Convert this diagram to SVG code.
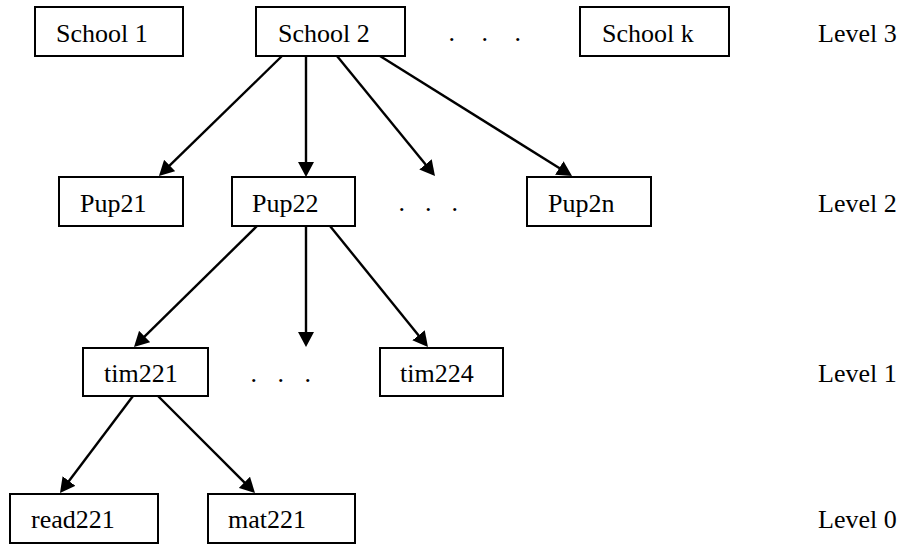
<svg xmlns="http://www.w3.org/2000/svg" width="902" height="544" viewBox="0 0 902 544">
<style>
  .box { fill: #fff; stroke: #000; stroke-width: 2; }
  .t { font-family: 'Liberation Serif', 'DejaVu Serif', serif; font-size: 26px; fill: #000; }
  .edge { stroke: #000; stroke-width: 2.4; fill: none; marker-end: url(#arrow); }
</style>
<defs>
  <marker id="arrow" viewBox="0 0 15 16" markerWidth="15" markerHeight="16" refX="6" refY="8" orient="auto" markerUnits="userSpaceOnUse">
    <path d="M0,0 L15,8 L0,16 z" fill="#000"/>
  </marker>
</defs>
<rect width="902" height="544" fill="#fff"/>

<g id="school1"><rect class="box" x="35" y="7" width="148" height="49"/><text class="t" font-family="Liberation Serif, serif" x="56" y="42">School 1</text></g>
<g id="school2"><rect class="box" x="256" y="7" width="149" height="49"/><text class="t" font-family="Liberation Serif, serif" x="278" y="42">School 2</text></g>
<g id="dots3"><text class="t" font-family="Liberation Serif, serif" x="448.5" y="41" style="word-spacing:20px">. . .</text></g>
<g id="schoolk"><rect class="box" x="580" y="7" width="149" height="49"/><text class="t" font-family="Liberation Serif, serif" x="602" y="42">School k</text></g>
<g id="level3"><text class="t" font-family="Liberation Serif, serif" x="818" y="42">Level 3</text></g>

<g id="pup21"><rect class="box" x="59" y="177" width="124" height="49"/><text class="t" font-family="Liberation Serif, serif" x="80" y="212">Pup21</text></g>
<g id="pup22"><rect class="box" x="232" y="177" width="123" height="49"/><text class="t" font-family="Liberation Serif, serif" x="252" y="212">Pup22</text></g>
<g id="dots2"><text class="t" font-family="Liberation Serif, serif" x="398.5" y="211" style="word-spacing:13.5px">. . .</text></g>
<g id="pup2n"><rect class="box" x="527" y="177" width="124" height="49"/><text class="t" font-family="Liberation Serif, serif" x="548" y="212">Pup2n</text></g>
<g id="level2"><text class="t" font-family="Liberation Serif, serif" x="818" y="212">Level 2</text></g>

<g id="tim221"><rect class="box" x="83" y="348" width="125" height="48"/><text class="t" font-family="Liberation Serif, serif" x="104" y="382">tim221</text></g>
<g id="dots1"><text class="t" font-family="Liberation Serif, serif" x="250.5" y="382" style="word-spacing:14px">. . .</text></g>
<g id="tim224"><rect class="box" x="380" y="348" width="123" height="48"/><text class="t" font-family="Liberation Serif, serif" x="400" y="382">tim224</text></g>
<g id="level1"><text class="t" font-family="Liberation Serif, serif" x="818" y="382">Level 1</text></g>

<g id="read221"><rect class="box" x="10" y="494" width="148" height="49"/><text class="t" font-family="Liberation Serif, serif" x="31" y="528">read221</text></g>
<g id="mat221"><rect class="box" x="208" y="494" width="147" height="49"/><text class="t" font-family="Liberation Serif, serif" x="228" y="528">mat221</text></g>
<g id="level0"><text class="t" font-family="Liberation Serif, serif" x="818" y="528">Level 0</text></g>

<g id="connectors">
  <line class="edge" x1="282" y1="56" x2="165.4" y2="169.7"/>
  <line class="edge" x1="306" y1="56" x2="306" y2="168"/>
  <line class="edge" x1="337" y1="56" x2="429.3" y2="169"/>
  <line class="edge" x1="380" y1="56" x2="564.4" y2="171.2"/>
  <line class="edge" x1="257" y1="226" x2="140.4" y2="340.7"/>
  <line class="edge" x1="306" y1="226" x2="306" y2="338"/>
  <line class="edge" x1="330" y1="226" x2="422.3" y2="340"/>
  <line class="edge" x1="133" y1="396" x2="65.4" y2="485.8"/>
  <line class="edge" x1="158" y1="396" x2="248.6" y2="486.6"/>
</g>
</svg>
